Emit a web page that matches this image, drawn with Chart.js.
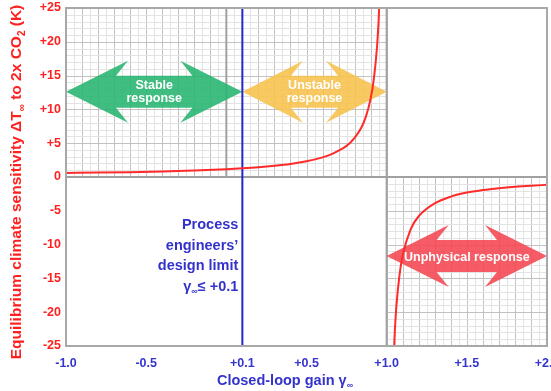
<!DOCTYPE html>
<html><head><meta charset="utf-8">
<script src="https://cdn.jsdelivr.net/npm/chart.js@4.4.1/dist/chart.umd.min.js"></script>
<style>html,body{margin:0;padding:0;background:#fff;}#wrap{width:551px;height:391px;}</style>
</head><body><div id="wrap"><canvas id="c" width="551" height="391"></canvas></div>
<script>
// ---- data ----
const xTicks = [-1.0, -0.5, 0.1, 0.5, 1.0, 1.5, 2.0];
const xTickLabels = ['-1.0', '-0.5', '+0.1', '+0.5', '+1.0', '+1.5', '+2.0'];
const yTicks = [-25, -20, -15, -10, -5, 0, 5, 10, 15, 20, 25];
const yTickLabels = ['-25', '-20', '-15', '-10', '-5', '0', '+5', '+10', '+15', '+20', '+25'];
// branch below the singularity (gain < 1)
const lowGain = [-1.0, -0.8, -0.6, -0.4, -0.2, 0.0, 0.1, 0.2, 0.3, 0.4, 0.5, 0.6, 0.65, 0.7, 0.75, 0.8, 0.84, 0.87, 0.9, 0.92, 0.94, 0.95, 0.96];
const lowSens = [0.6, 0.65, 0.72, 0.83, 0.97, 1.16, 1.29, 1.45, 1.66, 1.93, 2.32, 2.9, 3.3, 3.9, 4.6, 5.8, 7.2, 8.9, 11.6, 14.5, 19.3, 23.2, 29];
// branch above the singularity (gain > 1)
const highGain = [1.04, 1.05, 1.06, 1.08, 1.1, 1.15, 1.2, 1.3, 1.4, 1.5, 1.6, 1.7, 1.8, 1.9, 2.0];
const highSens = [-29, -23.2, -19.3, -14.5, -11.6, -7.7, -5.8, -3.9, -2.9, -2.3, -1.93, -1.66, -1.45, -1.29, -1.16];
const designLimit = 0.1;
const regionNames = [['Stable', 'response'], ['Unstable', 'response'], ['Unphysical response']];
const designText = ['Process', 'engineers\u2019', 'design limit'];

// ---- helpers ----
const FONT = '"Liberation Sans", Arial, sans-serif';
function richText(ctx, segs, x, y, align, size, color) {
  ctx.fillStyle = color;
  ctx.textBaseline = 'middle';
  ctx.textAlign = 'left';
  let total = 0;
  const w = segs.map(s => {
    ctx.font = 'bold ' + (s.sub ? Math.round(size * 0.62) : size) + 'px ' + FONT;
    const m = ctx.measureText(s.t).width; total += m; return m;
  });
  let cx = align === 'center' ? x - total / 2 : align === 'right' ? x - total : x;
  segs.forEach((s, i) => {
    ctx.font = 'bold ' + (s.sub ? Math.round(size * 0.62) : size) + 'px ' + FONT;
    ctx.fillText(s.t, cx, y + (s.sub ? size * 0.32 : 0));
    cx += w[i];
  });
}
function arrowPath(ctx, xl, xr, yc, H, S, L, J) {
  ctx.beginPath();
  ctx.moveTo(xl, yc);
  ctx.lineTo(xl + L, yc - H);
  ctx.lineTo(xl + J, yc - S);
  ctx.lineTo(xr - J, yc - S);
  ctx.lineTo(xr - L, yc - H);
  ctx.lineTo(xr, yc);
  ctx.lineTo(xr - L, yc + H);
  ctx.lineTo(xr - J, yc + S);
  ctx.lineTo(xl + J, yc + S);
  ctx.lineTo(xl + L, yc + H);
  ctx.closePath();
}
function drawGrid(ctx, xs, ys, gx0, gx1, gy0, gy1) {
  const px0 = xs.getPixelForValue(gx0), px1 = xs.getPixelForValue(gx1);
  const py0 = ys.getPixelForValue(gy0), py1 = ys.getPixelForValue(gy1);
  ctx.lineWidth = 1;
  const nx = Math.round((gx1 - gx0) / 0.05);
  for (let k = 0; k <= nx; k++) {
    const v = gx0 + k * 0.05;
    const p = Math.round(xs.getPixelForValue(v)) + 0.5;
    ctx.strokeStyle = (k % 2 === 0) ? '#c2c2c2' : '#e3e3e3';
    ctx.beginPath(); ctx.moveTo(p, py0); ctx.lineTo(p, py1); ctx.stroke();
  }
  const ny = Math.round(gy1 - gy0);
  for (let k = 0; k <= ny; k++) {
    const v = gy0 + k;
    const p = Math.round(ys.getPixelForValue(v)) + 0.5;
    ctx.strokeStyle = (Math.round(v) % 5 === 0) ? '#c2c2c2' : '#e3e3e3';
    ctx.beginPath(); ctx.moveTo(px0, p); ctx.lineTo(px1, p); ctx.stroke();
  }
}

const bgPlugin = {
  id: 'bg',
  beforeDatasetsDraw(chart) {
    const ctx = chart.ctx, xs = chart.scales.x, ys = chart.scales.y, a = chart.chartArea;
    ctx.save();
    ctx.beginPath(); ctx.rect(a.left, a.top, a.right - a.left, a.bottom - a.top); ctx.clip();
    drawGrid(ctx, xs, ys, -1, 1, 0, 25);
    drawGrid(ctx, xs, ys, 1, 2, -25, 0);
    // darker reference lines
    ctx.strokeStyle = '#a0a0a0';
    ctx.lineWidth = 2;
    const p0 = xs.getPixelForValue(0);
    ctx.beginPath(); ctx.moveTo(p0, ys.getPixelForValue(0)); ctx.lineTo(p0, ys.getPixelForValue(25)); ctx.stroke();
    const y0 = ys.getPixelForValue(0);
    ctx.beginPath(); ctx.moveTo(a.left, y0); ctx.lineTo(a.right, y0); ctx.stroke();
    const x1 = xs.getPixelForValue(1);
    ctx.beginPath(); ctx.moveTo(x1, a.top); ctx.lineTo(x1, a.bottom); ctx.stroke();
    // region arrows
    const arrows = [
      { x0: -1, x1: designLimit, y: 12.6, color: 'rgba(38,180,110,0.88)', label: regionNames[0] },
      { x0: designLimit, x1: 1, y: 12.6, color: 'rgba(247,192,75,0.88)', label: regionNames[1] },
      { x0: 1, x1: 2, y: -11.7, color: 'rgba(244,70,80,0.88)', label: regionNames[2] }
    ];
    arrows.forEach(ar => {
      const xl = xs.getPixelForValue(ar.x0), xr = xs.getPixelForValue(ar.x1), yc = ys.getPixelForValue(ar.y);
      const L = Math.min(62, (xr - xl) * 0.42), J = L - 12;
      arrowPath(ctx, xl, xr, yc, 31, 16, L, J);
      ctx.fillStyle = ar.color; ctx.fill();
      const cx = (xl + xr) / 2;
      if (ar.label.length === 2) {
        richText(ctx, [{ t: ar.label[0] }], cx, yc - 6, 'center', 12.5, '#ffffff');
        richText(ctx, [{ t: ar.label[1] }], cx, yc + 7, 'center', 12.5, '#ffffff');
      } else {
        richText(ctx, [{ t: ar.label[0] }], cx, yc + 1, 'center', 12.5, '#ffffff');
      }
    });
    ctx.restore();
  },
  afterDatasetsDraw(chart) {
    const ctx = chart.ctx, xs = chart.scales.x, ys = chart.scales.y, a = chart.chartArea;
    ctx.save();
    ctx.strokeStyle = '#a8a8a8'; ctx.lineWidth = 2;
    ctx.strokeRect(a.left, a.top, a.right - a.left, a.bottom - a.top);
    // design limit annotation
    const lx = xs.getPixelForValue(designLimit) - 4;
    const blue = '#3333cc';
    designText.forEach((t, i) => richText(ctx, [{ t }], lx, 225 + i * 20.5, 'right', 14.5, blue));
    richText(ctx, [{ t: '\u03b3' }, { t: '\u221e', sub: true }, { t: '\u2264 +0.1' }], lx, 286.5, 'right', 14.5, blue);
    // axis titles
    richText(ctx, [{ t: 'Closed-loop gain \u03b3' }, { t: '\u221e', sub: true }], 285, 381, 'center', 14.5, blue);
    ctx.translate(17, 182);
    ctx.rotate(-Math.PI / 2);
    richText(ctx, [{ t: 'Equilibrium climate sensitivity \u0394T' }, { t: '\u221e', sub: true }, { t: ' to 2x CO' }, { t: '2', sub: true }, { t: ' (K)' }], 0, 0, 'center', 15.5, '#ff2020');
    ctx.restore();
  }
};

new Chart(document.getElementById('c'), {
  type: 'line',
  data: {
    datasets: [
      { data: lowGain.map((g, i) => ({ x: g, y: lowSens[i] })), borderColor: '#ff2a2a', borderWidth: 2, pointRadius: 0, cubicInterpolationMode: 'monotone' },
      { data: highGain.map((g, i) => ({ x: g, y: highSens[i] })), borderColor: '#ff2a2a', borderWidth: 2, pointRadius: 0, cubicInterpolationMode: 'monotone' },
      { data: [{ x: designLimit, y: -25 }, { x: designLimit, y: 25 }], borderColor: '#2525cc', borderWidth: 2, pointRadius: 0 }
    ]
  },
  options: {
    responsive: false, animation: false, devicePixelRatio: 1,
    layout: { padding: { top: 8, right: 4, left: 0, bottom: 0 } },
    plugins: { legend: { display: false }, tooltip: { enabled: false } },
    scales: {
      x: {
        type: 'linear', min: -1, max: 2,
        grid: { display: false, drawTicks: false }, border: { display: false },
        afterBuildTicks: s => { s.ticks = xTicks.map(v => ({ value: v })); },
        afterFit: s => { s.height = 45; s.paddingLeft = 0; s.paddingRight = 0; },
        ticks: {
          padding: 10, maxRotation: 0, autoSkip: false,
          color: '#3535d0', font: { family: FONT, size: 12.5, weight: 'bold' },
          callback: v => { const i = xTicks.indexOf(v); return i >= 0 ? xTickLabels[i] : ''; }
        }
      },
      y: {
        type: 'linear', min: -25, max: 25,
        grid: { display: false, drawTicks: false }, border: { display: false },
        afterBuildTicks: s => { s.ticks = yTicks.map(v => ({ value: v })); },
        afterFit: s => { s.width = 66; s.paddingTop = 0; s.paddingBottom = 0; },
        ticks: {
          padding: 5, autoSkip: false,
          color: '#ff2020', font: { family: FONT, size: 12.5, weight: 'bold' },
          callback: v => { const i = yTicks.indexOf(v); return i >= 0 ? yTickLabels[i] : ''; }
        }
      }
    }
  },
  plugins: [bgPlugin]
});
</script></body></html>
